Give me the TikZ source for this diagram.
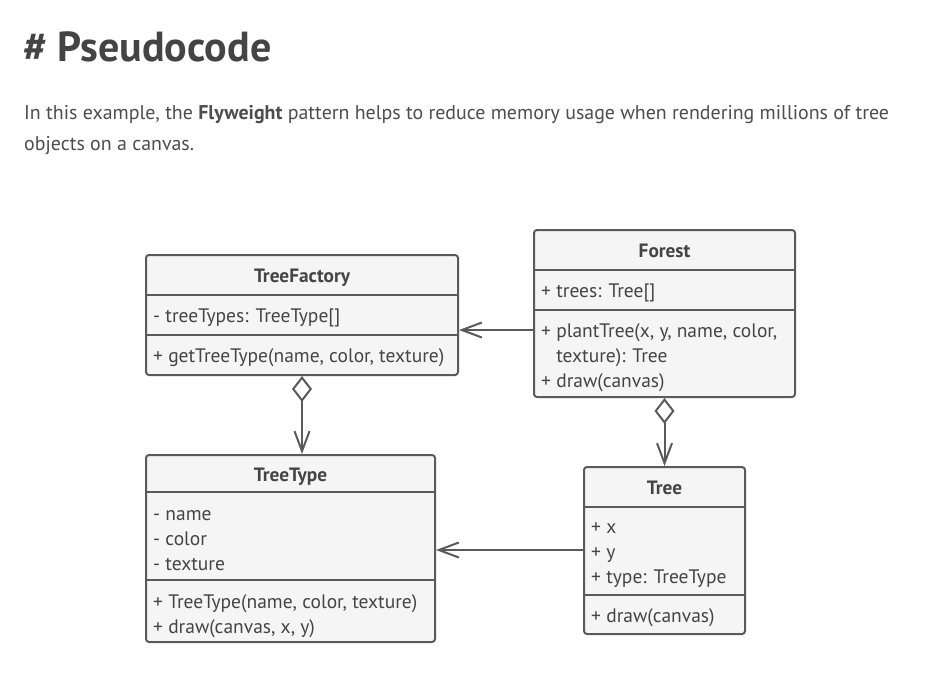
\documentclass[tikz,border=0pt]{standalone}
\usepackage{fontspec}
\setmainfont{PT Sans}
\usetikzlibrary{arrows.meta}
\definecolor{ink}{HTML}{444444}
\definecolor{body}{HTML}{4D4D4D}
\definecolor{edge}{HTML}{5A5A5A}
\definecolor{boxfill}{HTML}{F5F5F5}
\begin{document}
\begin{tikzpicture}[x=1pt,y=-1pt,
  classbox/.style={draw=edge, line width=2pt, fill=boxfill, rounded corners=3pt, inner sep=0pt},
  divider/.style={draw=edge, line width=2pt},
  cname/.style={anchor=base, inner sep=0pt, font=\fontsize{19.3}{22}\selectfont\bfseries, text=ink},
  member/.style={anchor=base west, inner sep=0pt, font=\fontsize{19.5}{22}\selectfont, text=ink},
  assoc/.style={draw=edge, line width=2pt, -{Straight Barb[length=20pt,width=15pt,line width=2pt]}},
  aggr/.style={draw=edge, line width=2pt, {Diamond[open,fill=white,length=26pt,width=20pt,line width=2pt]}-{Straight Barb[length=20pt,width=15pt,line width=2pt]}}
]
\path[use as bounding box, fill=white] (0,0) rectangle (936,682);

% heading and text
\node[anchor=base west, inner sep=0pt, font=\fontsize{42}{46}\selectfont\bfseries, text=ink] (title) at (23,62) {\# Pseudocode};
\node[anchor=base west, inner sep=0pt, font=\fontsize{19.9}{30}\selectfont, text=body] (line1) at (24,120) {In this example, the \textbf{Flyweight} pattern helps to reduce memory usage when rendering millions of tree};
\node[anchor=base west, inner sep=0pt, font=\fontsize{19.9}{30}\selectfont, text=body] (line2) at (24,150) {objects on a canvas.};

% boxes
\node[classbox, minimum width=312pt, minimum height=120pt] (tf) at (302,315) {};
\node[classbox, minimum width=261pt, minimum height=167pt] (forest) at (664.5,313.5) {};
\node[classbox, minimum width=289pt, minimum height=187pt] (tt) at (290.5,548.5) {};
\node[classbox, minimum width=161pt, minimum height=167pt] (tree) at (664.5,550.5) {};

% dividers
\draw[divider] (tf.west |- 0,295) -- (tf.east |- 0,295);
\draw[divider] (tf.west |- 0,335) -- (tf.east |- 0,335);
\draw[divider] (forest.west |- 0,270) -- (forest.east |- 0,270);
\draw[divider] (forest.west |- 0,310) -- (forest.east |- 0,310);
\draw[divider] (tt.west |- 0,492) -- (tt.east |- 0,492);
\draw[divider] (tt.west |- 0,580) -- (tt.east |- 0,580);
\draw[divider] (tree.west |- 0,507) -- (tree.east |- 0,507);
\draw[divider] (tree.west |- 0,595) -- (tree.east |- 0,595);

% TreeFactory
\node[cname] (tfn) at (302,282) {TreeFactory};
\node[member] (tfa) at (153,322) {- treeTypes: TreeType[]};
\node[member] (tfm) at (153,362) {+ getTreeType(name, color, texture)};

% Forest
\node[cname] (fon) at (664.5,257) {Forest};
\node[member] (foa) at (541,297) {+ trees: Tree[]};
\node[member] (fom1) at (541,337) {+ plantTree(x, y, name, color,};
\node[member] (fom2) at (541,362) {\phantom{+ }texture): Tree};
\node[member] (fom3) at (541,387) {+ draw(canvas)};

% TreeType
\node[cname] (ttn) at (290.5,481) {TreeType};
\node[member] (tta1) at (153,520) {- name};
\node[member] (tta2) at (153,545) {- color};
\node[member] (tta3) at (153,570) {- texture};
\node[member] (ttm1) at (153,608) {+ TreeType(name, color, texture)};
\node[member] (ttm2) at (153,633) {+ draw(canvas, x, y)};

% Tree
\node[cname] (tren) at (664.5,494) {Tree};
\node[member] (trea1) at (591,533) {+ x};
\node[member] (trea2) at (591,558) {+ y};
\node[member] (trea3) at (591,583) {+ type: TreeType};
\node[member] (trem) at (591,622) {+ draw(canvas)};

% connectors
\draw[assoc] (forest.west |- 0,330) -- (tf.east |- 0,330);
\draw[assoc] (tree.west |- 0,550) -- (tt.east |- 0,550);
\draw[aggr] (tf.south) -- (tf.south |- tt.north);
\draw[aggr] (forest.south) -- (forest.south |- tree.north);
\end{tikzpicture}
\end{document}
